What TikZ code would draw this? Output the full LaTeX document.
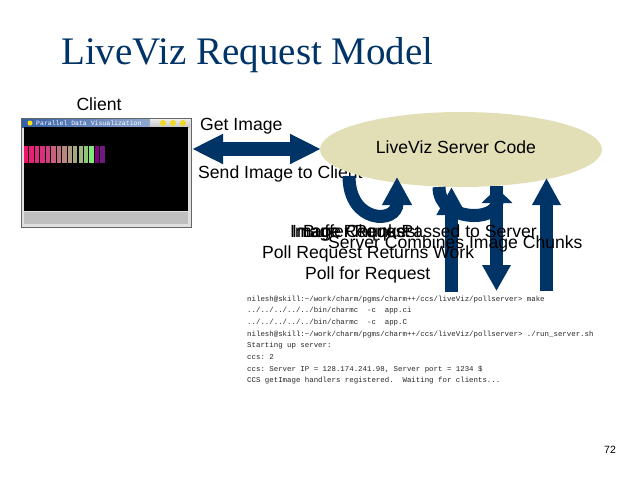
\documentclass[tikz,border=0pt]{standalone}
\usepackage{fontspec}
\setmainfont{Liberation Sans}
\setmonofont{Liberation Mono}
\newfontfamily\titlefont{Liberation Serif}
\usetikzlibrary{arrows.meta,shapes.geometric}
\definecolor{navy}{HTML}{003366}
\definecolor{srvfill}{HTML}{E2DFB6}
\definecolor{winbar}{HTML}{3560A8}
\tikzset{
  bigarrow/.style={draw=navy,line width=13pt,-{Triangle[length=28pt,width=28pt]}},
  lbl/.style={font=\fontsize{17.6}{20}\selectfont,inner sep=0pt,anchor=base west},
  term/.style={font=\ttfamily\fontsize{7.4}{9}\selectfont,inner sep=0pt,anchor=base west,text=black!85}
}
\begin{document}
\begin{tikzpicture}[x=1pt,y=-1pt]
\useasboundingbox (0,0) rectangle (640,480);
\node[font=\titlefont\fontsize{39}{44}\selectfont,text=navy,inner sep=0pt,anchor=base west] (title) at (61,64) {LiveViz Request Model};

% client window
\node[draw=gray!80!black,fill=gray!25,minimum width=170pt,minimum height=109pt,inner sep=0pt,anchor=north west] (client) at (21,118) {};
\shade[left color=winbar,right color=winbar!55!white] (22,119) rectangle (150,127);
\shade[top color=gray!15,bottom color=gray!45] (150,119) rectangle (190,127);
\foreach \bx in {163,173,183}
  \fill[yellow!75!brown] (\bx,123) circle (3);
\fill[yellow!85!orange] (30,123) circle (2.5);
\node[font=\ttfamily\fontsize{6.5}{7}\selectfont,text=white,anchor=west,inner sep=0pt] (wintitle) at (36,123) {Parallel Data Visualization};
\fill[black] (24,127) rectangle (188,211);
\fill[gray!50] (24,212) rectangle (188,224);
\foreach \c [count=\i from 0] in {F0106E,E82075,E02A7A,D8307C,D04080,C86080,C07080,B88880,B09A80,A8A880,A0B880,90C878,80E878,800080,701A80}
  {\definecolor{barc}{HTML}{\c}\fill[barc] ({24+5.45*\i},146) rectangle +(4.4,17);}

% client <-> server
\coordinate (getL) at (192,149);
\coordinate (getR) at (321,149);
\draw[bigarrow,line width=14pt,{Triangle[length=31pt,width=28pt]}-{Triangle[length=31pt,width=28pt]}] (getL) -- (getR);
\node[lbl] (getimg) at (200,130) {Get Image};
\node[lbl] (sendimg) at (198,178) {Send Image to Client};
\node[lbl,anchor=base] (clientlbl) at (99,110) {Client};

% server
\node[ellipse,fill=srvfill,minimum width=282pt,minimum height=75pt,inner sep=0pt] (server) at (461,149.5) {};
\node[lbl,anchor=base] (srvlbl) at (456,153) {LiveViz Server Code};

% request arrows
\coordinate (c1s) at (349,176);
\coordinate (c1e) at (397,177);
\coordinate (c2s) at (439,187);
\coordinate (c2e) at (497,188);
\coordinate (upAs) at (451.5,292);
\coordinate (upAe) at (451.5,187);
\coordinate (dnS) at (496.5,186);
\coordinate (dnE) at (496.5,291);
\coordinate (upBs) at (546.5,291);
\coordinate (upBe) at (546.5,178);
\draw[bigarrow] (c1s) .. controls (349,224) and (397,224) .. (c1e);
\draw[bigarrow] (upAs) -- (upAe);
\draw[bigarrow,-{Triangle[length=15pt,width=30pt]}] (c2s) .. controls (439,222) and (497,222) .. (c2e);
\draw[bigarrow,-{Triangle[length=26pt,width=27pt]}] (dnS) -- (dnE);
\draw[bigarrow,-{Triangle[length=27pt,width=27pt]}] (upBs) -- (upBe);

\node[lbl] (imgreq) at (290,237) {Image Request};
\node[lbl] (bufreq) at (303,237) {Buffer Request};
\node[lbl] (chunk) at (292,237) {Image Chunk Passed to Server};
\node[lbl] (combine) at (328,248) {Server Combines Image Chunks};
\node[lbl] (pollret) at (262,258) {Poll Request Returns Work};
\node[lbl] (pollreq) at (305,279) {Poll for Request};

% terminal output
\node[term] (term0) at (247,301) {nilesh@skill:\textasciitilde/work/charm/pgms/charm++/ccs/liveViz/pollserver> make};
\node[term] (term1) at (247,312.7) {../../../../../bin/charmc\ \ -c\ \ app.ci};
\node[term] (term2) at (247,324.4) {../../../../../bin/charmc\ \ -c\ \ app.C};
\node[term] (term3) at (247,336.1) {nilesh@skill:\textasciitilde/work/charm/pgms/charm++/ccs/liveViz/pollserver> ./run\_server.sh};
\node[term] (term4) at (247,347.8) {Starting up server:};
\node[term] (term5) at (247,359.5) {ccs: 2};
\node[term] (term6) at (247,371.2) {ccs: Server IP = 128.174.241.98, Server port = 1234 \$};
\node[term] (term7) at (247,382.9) {CCS getImage handlers registered.\ \ Waiting for clients...};

\node[font=\fontsize{10.5}{12}\selectfont,inner sep=0pt,anchor=base west] (pagenum) at (604,453) {72};
\end{tikzpicture}
\end{document}
